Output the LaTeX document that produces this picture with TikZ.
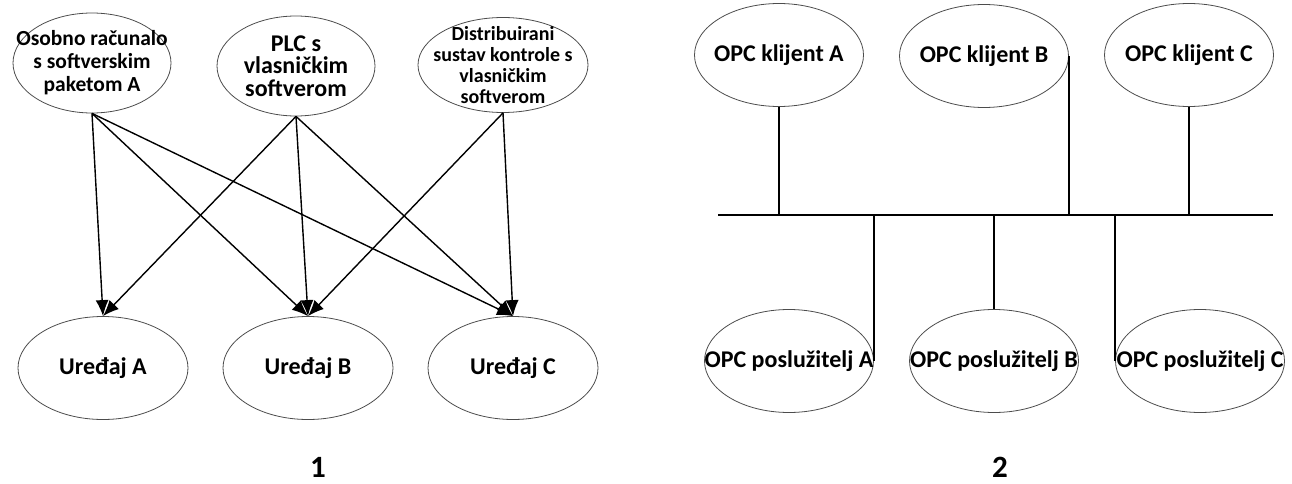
\documentclass[tikz,border=0pt]{standalone}
\usepackage{fontspec}
\setmainfont{Carlito}
\usetikzlibrary{shapes.geometric,arrows.meta}

\begin{document}
\begin{tikzpicture}[x=1pt,y=-1pt,>={Latex[length=16pt,width=13pt]},
  oval/.style={ellipse,draw=black!70,line width=0.8pt,inner sep=0pt},
  src oval/.style={oval,minimum width=158pt,minimum height=100pt},
  dev oval/.style={oval,minimum width=170pt,minimum height=103pt},
  opc oval/.style={oval,minimum width=169pt,minimum height=103pt},
  big text/.style={align=center,font=\bfseries\fontsize{24}{22.5}\selectfont},
  mid text/.style={align=center,font=\bfseries\fontsize{20}{21}\selectfont},
  low text/.style={align=center,font=\bfseries\fontsize{21.5}{23}\selectfont},
  link/.style={line width=1.4pt}]

  \useasboundingbox (0,0) rectangle (1292,484);

  % slika 1
  \node[src oval] (pc) at (92,63) {};
  \node[low text] (pc text) at (pc) {Osobno računalo\\s softverskim\\paketom A};
  \node[src oval] (plc) at (296,66) {};
  \node[big text] (plc text) at (plc) {PLC s\\vlasničkim\\softverom};
  \node[oval,minimum width=170pt,minimum height=95pt] (dcs) at (503,65) {};
  \node[mid text] (dcs text) at (dcs) {Distribuirani\\sustav kontrole s\\vlasničkim\\softverom};

  \node[dev oval] (ua) at (103,368) {};
  \node[big text] (ua text) at (ua) {Uređaj A};
  \node[dev oval] (ub) at (308,368) {};
  \node[big text] (ub text) at (ub) {Uređaj B};
  \node[dev oval] (uc) at (513,368) {};
  \node[big text] (uc text) at (uc) {Uređaj C};

  \path[->,link]
    (pc.south) edge (ua.north)
    (pc.south) edge (ub.north)
    (pc.south) edge (uc.north)
    (plc.south) edge (ua.north)
    (plc.south) edge (ub.north)
    (plc.south) edge (uc.north)
    (dcs.south) edge (ub.north)
    (dcs.south) edge (uc.north);

  % slika 2
  \node[opc oval] (ka) at (779,55) {};
  \node[big text] (ka text) at (ka) {OPC klijent A};
  \node[opc oval] (kb) at (984,56) {};
  \node[big text] (kb text) at (kb) {OPC klijent B};
  \node[opc oval] (kc) at (1189,55) {};
  \node[big text] (kc text) at (kc) {OPC klijent C};

  \node[opc oval] (sa) at (789,361) {};
  \node[big text] (sa text) at (sa) {OPC poslužitelj A};
  \node[opc oval] (sb) at (994,361) {};
  \node[big text] (sb text) at (sb) {OPC poslužitelj B};
  \node[opc oval] (sc) at (1200,361) {};
  \node[big text] (sc text) at (sc) {OPC poslužitelj C};

  \coordinate (bus w) at (718,215);
  \coordinate (bus e) at (1273,215);
  \draw[link] (bus w) -- (bus e);

  \draw[link] (ka.south) -- (ka.south |- bus w);
  \draw[link] (kb.east) -- (kb.east |- bus w);
  \draw[link] (kc.south) -- (kc.south |- bus w);
  \draw[link] (sa.east) -- (sa.east |- bus w);
  \draw[link] (sb.north) -- (sb.north |- bus w);
  \draw[link] (sc.west) -- (sc.west |- bus w);

  \node[font=\bfseries\fontsize{31}{31}\selectfont] (fig one) at (318,467) {1};
  \node[font=\bfseries\fontsize{31}{31}\selectfont] (fig two) at (1000,467) {2};

\end{tikzpicture}
\end{document}
